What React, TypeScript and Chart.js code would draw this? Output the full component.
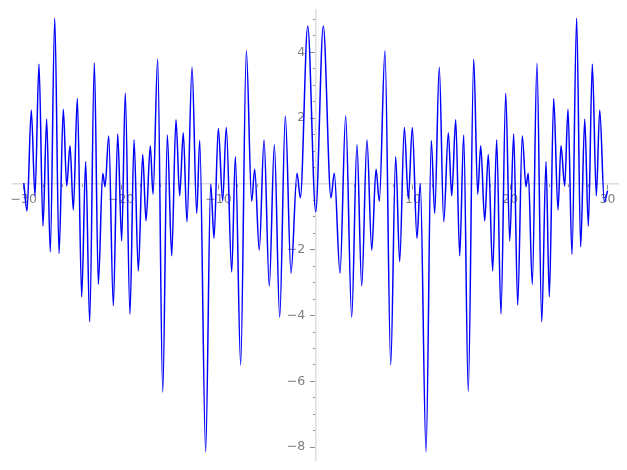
import { useEffect, useRef } from 'react';
import { Chart, registerables } from 'chart.js';

Chart.register(...registerables);

// Curve extrema (x, y)
const curveX = [
  -30, -29.67, -29.23, -28.85, -28.44, -28.03, -27.65, -27.28, -26.82, -26.38,
  -25.94, -25.59, -25.25, -24.91, -24.5, -24.05, -23.64, -23.23, -22.75, -22.34,
  -21.89, -21.65, -21.27, -20.8, -20.35, -19.94, -19.57, -19.09, -18.67, -18.23,
  -17.78, -17.44, -17.0, -16.72, -16.24, -15.72, -15.25, -14.8, -14.36, -13.98,
  -13.61, -13.23, -12.71, -12.23, -11.92, -11.31, -10.79, -10.45, -10.01, -9.56,
  -9.19, -8.63, -8.26, -7.71, -7.13, -6.58, -6.27, -5.8, -5.31, -4.77,
  -4.25, -3.7, -3.12, -2.54, -1.92, -1.58, -0.82, 0,
  0.78, 1.57, 1.91, 2.5, 3.08, 3.7, 4.24, 4.73, 5.27, 5.76,
  6.2, 6.54, 7.12, 7.71, 8.22, 8.63, 9.11, 9.52, 9.93, 10.41,
  10.75, 11.34, 11.88, 12.23, 12.7, 13.16, 13.63, 13.98, 14.39, 14.8,
  15.21, 15.68, 16.24, 16.65, 16.96, 17.37, 17.74, 18.19, 18.6, 19.04,
  19.53, 19.94, 20.35, 20.76, 21.23, 21.61, 21.85, 22.26, 22.74, 23.23,
  23.67, 24.01, 24.46, 24.9, 25.21, 25.59, 25.93, 26.34, 26.82, 27.23,
  27.65, 28.02, 28.43, 28.84, 29.19, 29.66, 30,
];
const curveY = [
  0.03, -0.82, 2.25, -0.36, 3.64, -1.28, 1.97, -2.06, 5.04, -2.11,
  2.27, -0.06, 1.16, -0.79, 2.6, -3.43, 0.68, -4.19, 3.69, -3.05,
  0.33, -0.08, 1.46, -3.7, 1.52, -1.73, 2.76, -3.96, 1.34, -2.64,
  0.9, -1.12, 1.16, -0.31, 3.79, -6.33, 1.49, -2.18, 1.95, -0.36,
  1.56, -1.15, 3.55, -0.89, 1.32, -8.14, 0.0, -1.65, 1.69, -0.51,
  1.72, -2.67, 0.83, -5.5, 4.05, -0.52, 0.45, -2.01, 1.34, -3.1,
  1.19, -4.05, 2.07, -2.71, 0.33, -0.42, 4.8, -0.84,
  4.8, -0.42, 0.33, -2.71, 2.07, -4.05, 1.19, -3.1, 1.34, -2.01,
  0.45, -0.52, 4.05, -5.5, 0.83, -2.36, 1.72, -0.45, 1.72, -1.65,
  0.02, -8.14, 1.32, -0.89, 3.55, -1.15, 1.56, -0.36, 1.95, -2.18,
  1.49, -6.31, 3.79, -0.31, 1.16, -1.12, 0.9, -2.64, 1.34, -3.96,
  2.76, -1.73, 1.52, -3.68, 1.46, -0.08, 0.33, -3.05, 3.67, -4.19,
  0.68, -3.43, 2.6, -0.79, 1.16, -0.06, 2.27, -2.14, 5.04, -1.91,
  1.97, -1.28, 3.64, -0.36, 2.25, -0.54, -0.2,
];

const xMajorTicks = [-30, -20, -10, 10, 20, 30];
const xMinorTicks = [
  -28, -26, -24, -22, -18, -16, -14, -12, -8, -6, -4, -2,
  2, 4, 6, 8, 12, 14, 16, 18, 22, 24, 26, 28,
];
const yMajorTicks = [4, 2, -2, -4, -6, -8];
const yMinorTicks = [
  5, 4.5, 3.5, 3, 2.5, 1.5, 1, 0.5, -0.5, -1, -1.5, -2.5, -3, -3.5,
  -4.5, -5, -5.5, -6.5, -7, -7.5,
];

// symmetric x range, so the y axis drawn at the chart-area centre sits at x = 0
const X_MIN = -31.1;
const X_MAX = 31.1;
const Y_MIN = -8.39;
const Y_MAX = 5.29;

const fmt = (v: number) => (v < 0 ? '\u2212' + Math.abs(v) : String(v));

export default function App() {
  const ref = useRef<HTMLCanvasElement | null>(null);

  useEffect(() => {
    const canvas = ref.current;
    if (!canvas) return;
    const points = curveX.map((x, i) => ({ x, y: curveY[i] }));
    const labelFont = { family: "'DejaVu Sans', sans-serif", size: 12.5 };
    const labelColor = '#808080';
    const tickColor = '#8c8c8c';
    const axisColor = '#dddddd';
    const noPad = (s: any) => {
      s.paddingTop = 0;
      s.paddingBottom = 0;
      s.paddingLeft = 0;
      s.paddingRight = 0;
    };

    const chart = new Chart(canvas, {
      type: 'line',
      data: {
        datasets: [
          {
            data: points,
            borderColor: '#0000ff',
            borderWidth: 1.5,
            pointRadius: 0,
            fill: false,
            cubicInterpolationMode: 'monotone',
            xAxisID: 'x',
            yAxisID: 'y',
          },
        ],
      },
      options: {
        animation: false,
        responsive: false,
        devicePixelRatio: 1,
        events: [],
        layout: { padding: { left: 13.1, right: 8.7, top: 10, bottom: 10 } },
        plugins: { legend: { display: false }, tooltip: { enabled: false } },
        scales: {
          x: {
            type: 'linear',
            min: X_MIN,
            max: X_MAX,
            position: { y: 0 },
            afterFit: noPad,
            afterBuildTicks: (s: any) => {
              s.ticks = xMajorTicks.map((value) => ({ value }));
            },
            ticks: {
              callback: (v: any) => fmt(Number(v)),
              autoSkip: false,
              maxRotation: 0,
              color: labelColor,
              font: labelFont,
              padding: 3,
            },
            grid: {
              drawOnChartArea: false,
              drawTicks: true,
              tickLength: 5,
              tickColor,
              tickWidth: 1,
            },
            border: { display: true, color: axisColor, width: 1.5 },
          },
          xm: {
            type: 'linear',
            min: X_MIN,
            max: X_MAX,
            position: { y: 0 },
            afterFit: noPad,
            afterBuildTicks: (s: any) => {
              s.ticks = xMinorTicks.map((value) => ({ value }));
            },
            ticks: { display: false },
            grid: {
              drawOnChartArea: false,
              drawTicks: true,
              tickLength: 3,
              tickColor,
              tickWidth: 1,
            },
            border: { display: false },
          },
          y: {
            type: 'linear',
            min: Y_MIN,
            max: Y_MAX,
            position: 'center',
            afterFit: noPad,
            afterBuildTicks: (s: any) => {
              s.ticks = yMajorTicks.map((value) => ({ value }));
            },
            ticks: {
              callback: (v: any) => fmt(Number(v)),
              autoSkip: false,
              color: labelColor,
              font: labelFont,
              padding: 5.5,
            },
            grid: {
              drawOnChartArea: false,
              drawTicks: true,
              tickLength: 5,
              tickColor,
              tickWidth: 1,
            },
            border: { display: true, color: axisColor, width: 1.5 },
          },
          ym: {
            type: 'linear',
            min: Y_MIN,
            max: Y_MAX,
            position: 'center',
            afterFit: noPad,
            afterBuildTicks: (s: any) => {
              s.ticks = yMinorTicks.map((value) => ({ value }));
            },
            ticks: { display: false },
            grid: {
              drawOnChartArea: false,
              drawTicks: true,
              tickLength: 3,
              tickColor,
              tickWidth: 1,
            },
            border: { display: false },
          },
        },
      } as any,
    });
    return () => chart.destroy();
  }, []);

  return (
    <div
      style={{
        position: 'fixed',
        left: 0,
        top: 0,
        width: 627,
        height: 470,
        background: '#ffffff',
      }}
    >
      <canvas ref={ref} width={627} height={470} style={{ display: 'block' }} />
    </div>
  );
}
